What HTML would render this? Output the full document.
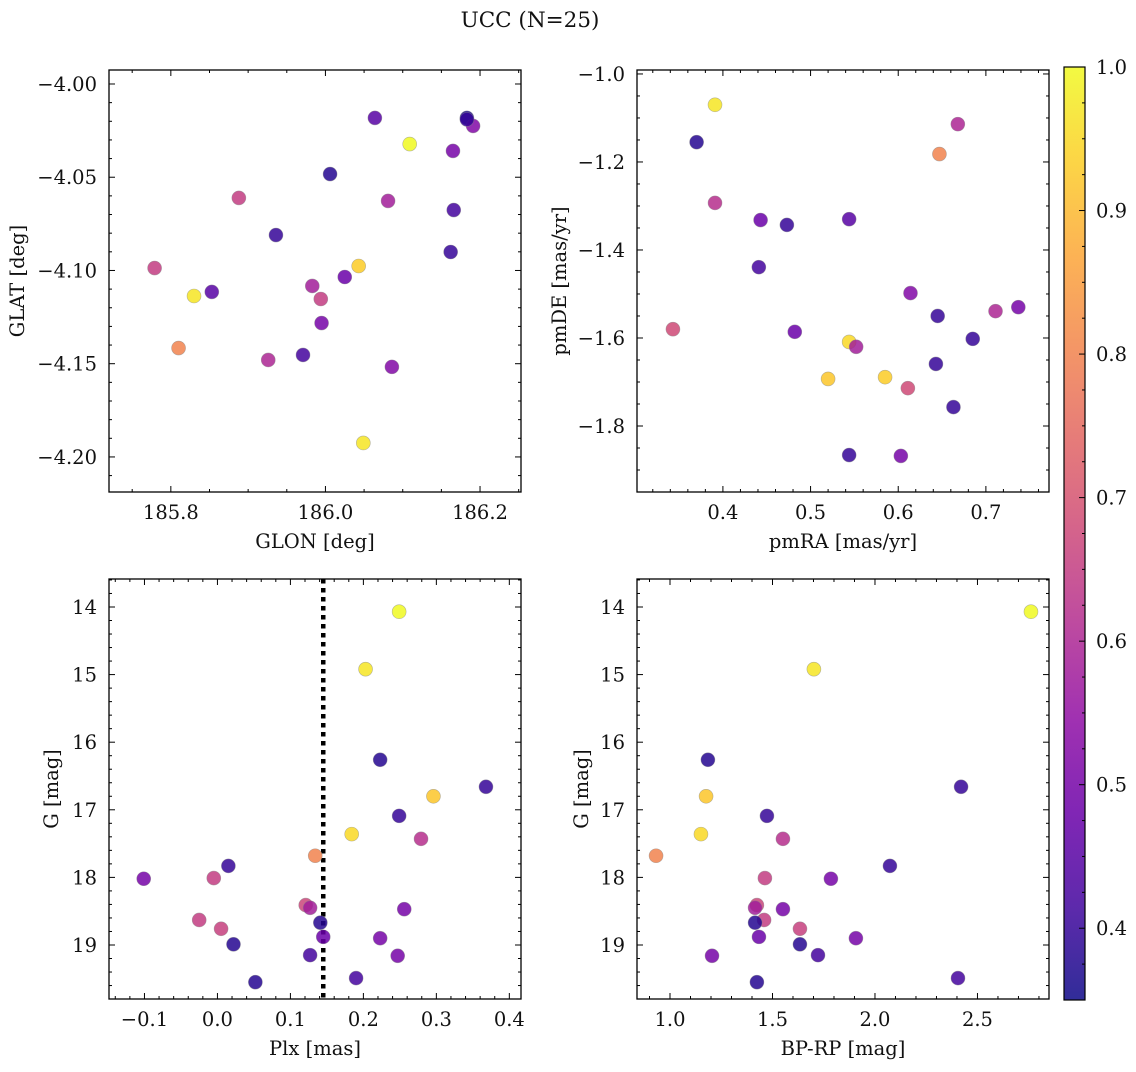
<!DOCTYPE html>
<html><head><meta charset="utf-8"><style>
body{margin:0;background:#fff;}
svg text{font-family:"DejaVu Serif","Liberation Serif",serif;fill:#111;}
</style></head><body>
<svg id="fig" width="1136" height="1067" xmlns="http://www.w3.org/2000/svg">
<defs><linearGradient id="cbg" x1="0" y1="1" x2="0" y2="0"></linearGradient></defs>
<text x="530" y="27" font-size="21.5" text-anchor="middle">UCC (N=25)</text>
</svg>
<script>
const bottomG=[14.07,14.92,16.26,16.66,16.80,17.09,17.36,17.43,17.68,17.83,18.02,18.01,18.63,18.41,18.45,18.47,18.76,18.67,18.88,18.90,18.99,19.15,19.16,19.49,19.55];
const bottomProb=[1.0,0.97,0.38,0.40,0.92,0.40,0.95,0.62,0.80,0.40,0.50,0.65,0.65,0.67,0.58,0.50,0.66,0.38,0.48,0.50,0.38,0.42,0.50,0.42,0.38];
const plxValues=[0.249,0.203,0.223,0.368,0.296,0.249,0.184,0.279,0.134,0.015,-0.101,-0.005,-0.025,0.121,0.127,0.256,0.005,0.141,0.145,0.223,0.022,0.127,0.247,0.190,0.052];
const bprpValues=[2.761,1.702,1.185,2.420,1.176,1.473,1.151,1.551,0.932,2.073,1.785,1.463,1.459,1.424,1.415,1.551,1.634,1.415,1.434,1.907,1.634,1.722,1.205,2.405,1.424];
const glonValues=[185.779,185.830,185.810,185.853,185.888,185.936,185.926,185.971,185.983,185.994,185.995,186.006,186.025,186.043,186.049,186.064,186.081,186.086,186.109,186.162,186.166,186.165,186.183,186.191,186.183];
const glatValues=[-4.0987,-4.1137,-4.1416,-4.1115,-4.0611,-4.0810,-4.148,-4.1453,-4.1083,-4.1153,-4.1282,-4.0483,-4.1035,-4.0976,-4.1925,-4.0182,-4.0627,-4.1517,-4.0322,-4.0901,-4.0676,-4.0359,-4.0182,-4.0225,-4.0190];
const glProb=[0.65,0.97,0.80,0.45,0.65,0.40,0.60,0.42,0.58,0.65,0.50,0.38,0.48,0.93,0.97,0.45,0.58,0.52,1.0,0.40,0.42,0.50,0.36,0.52,0.40];
const pmraValues=[0.391,0.370,0.668,0.647,0.391,0.443,0.473,0.544,0.441,0.614,0.343,0.482,0.544,0.552,0.645,0.685,0.711,0.737,0.520,0.585,0.611,0.643,0.663,0.544,0.603];
const pmdeValues=[-1.070,-1.155,-1.114,-1.182,-1.293,-1.332,-1.343,-1.330,-1.439,-1.498,-1.580,-1.586,-1.609,-1.620,-1.550,-1.602,-1.539,-1.530,-1.693,-1.689,-1.714,-1.659,-1.757,-1.866,-1.868];
const pmProb=[0.97,0.38,0.60,0.80,0.62,0.48,0.40,0.45,0.42,0.52,0.68,0.48,0.95,0.58,0.40,0.40,0.60,0.50,0.92,0.93,0.68,0.40,0.40,0.40,0.50];
const plxCut=[0.145];
const cbTicks=[0.4,0.5,0.6,0.7,0.8,0.9,1.0];

const NS='http://www.w3.org/2000/svg';
const svg=document.getElementById('fig');
const FS=19.5;
const plasma=[[13,8,135],[65,4,157],[106,0,168],[143,13,164],[177,42,144],[204,71,120],[225,100,98],[242,132,75],[252,166,54],[252,206,37],[240,249,33]];
const VMIN=0.35,VMAX=1.0;
function cmap(v){let t=(v-VMIN)/(VMAX-VMIN);t=Math.max(0,Math.min(1,t));const f=t*10;const i=Math.min(9,Math.floor(f));const r=f-i;const a=plasma[i],b=plasma[i+1];return 'rgb('+a.map((c,k)=>Math.round(c+(b[k]-c)*r)).join(',')+')';}
function el(tag,attrs,parent){const e=document.createElementNS(NS,tag);for(const k in attrs)e.setAttribute(k,attrs[k]);(parent||svg).appendChild(e);return e;}
function fmt(v,d){const s=Math.abs(v).toFixed(d);return (v<-1e-9?'\u2212':'')+s;}

function panel(o){
  const g=el('g',{});
  
  
  const sx=v=>o.x0+(v-o.xmin)/(o.xmax-o.xmin)*(o.x1-o.x0);
  const sy=o.invert? (v=>o.y0+(v-o.ymin)/(o.ymax-o.ymin)*(o.y1-o.y0)) : (v=>o.y1-(v-o.ymin)/(o.ymax-o.ymin)*(o.y1-o.y0));
  const frame=el('rect',{x:o.x0,y:o.y0,width:o.x1-o.x0,height:o.y1-o.y0,fill:'none',stroke:'#000','stroke-width':1.3},g);
  
  
  const eps=1e-9;
  for(let v=Math.ceil(o.xmin/o.xminor-eps)*o.xminor;v<=o.xmax+eps;v+=o.xminor){
    const isMaj=Math.abs(v/o.xmajor-Math.round(v/o.xmajor))<1e-6;const L=isMaj?6:3;const x=sx(v);
    el('line',{x1:x,x2:x,y1:o.y1,y2:o.y1-L,stroke:'#000','stroke-width':1},g);
    el('line',{x1:x,x2:x,y1:o.y0,y2:o.y0+L,stroke:'#000','stroke-width':1},g);
    if(isMaj){const t=el('text',{x:x,y:o.y1+27,'font-size':FS,'text-anchor':'middle'},g);t.textContent=fmt(v,o.xdec);
      
      }
  }
  for(let v=Math.ceil(o.ymin/o.yminor-eps)*o.yminor;v<=o.ymax+eps;v+=o.yminor){
    const isMaj=Math.abs(v/o.ymajor-Math.round(v/o.ymajor))<1e-6;const L=isMaj?6:3;const y=sy(v);
    el('line',{x1:o.x0,x2:o.x0+L,y1:y,y2:y,stroke:'#000','stroke-width':1},g);
    el('line',{x1:o.x1,x2:o.x1-L,y1:y,y2:y,stroke:'#000','stroke-width':1},g);
    if(isMaj){const t=el('text',{x:o.x0-12,y:y+7,'font-size':FS,'text-anchor':'end'},g);t.textContent=fmt(v,o.ydec);
      
      }
  }
  const xl=el('text',{x:(o.x0+o.x1)/2,y:o.y1+56,'font-size':FS,'text-anchor':'middle'},g);xl.textContent=o.xlabel;
  
  
  const yx=o.ylabx,yy=(o.y0+o.y1)/2;
  const yl=el('text',{x:yx,y:yy,'font-size':FS,'text-anchor':'middle',transform:'rotate(-90 '+yx+' '+yy+')'},g);yl.textContent=o.ylabel;
  
  
  if(o.vline!==undefined){
    const l=el('line',{x1:sx(o.vline),x2:sx(o.vline),y1:o.y0,y2:o.y1,stroke:'#000','stroke-width':4.5,'stroke-dasharray':'4.5 4.5'},g);
    
    
  }
  for(let i=0;i<o.xs.length;i++){
    const c=el('circle',{cx:sx(o.xs[i]),cy:sy(o.ys[i]),r:7,fill:cmap(o.cs[i]),'fill-opacity':0.85,stroke:'#888','stroke-opacity':0.6,'stroke-width':0.6},g);
    
    
  }
}

panel({name:'glon-glat-panel',x0:109,x1:521,y0:70,y1:492,xmin:185.720,xmax:186.253,ymin:-4.2188,ymax:-3.9925,xmajor:0.2,xminor:0.05,ymajor:0.05,yminor:0.01,xdec:1,ydec:2,xlabel:'GLON [deg]',ylabel:'GLAT [deg]',ylabx:24,xs:glonValues,ys:glatValues,cs:glProb});
panel({name:'pm-panel',x0:637,x1:1049,y0:70,y1:492,xmin:0.302,xmax:0.772,ymin:-1.950,ymax:-0.991,xmajor:0.1,xminor:0.02,ymajor:0.2,yminor:0.05,xdec:1,ydec:1,xlabel:'pmRA [mas/yr]',ylabel:'pmDE [mas/yr]',ylabx:566,xs:pmraValues,ys:pmdeValues,cs:pmProb});
panel({name:'plx-g-panel',x0:109,x1:521,y0:579,y1:999,xmin:-0.1486,xmax:0.416,ymin:13.586,ymax:19.799,invert:true,xmajor:0.1,xminor:0.02,ymajor:1,yminor:0.2,xdec:1,ydec:0,xlabel:'Plx [mas]',ylabel:'G [mag]',ylabx:58,xs:plxValues,ys:bottomG,cs:bottomProb,vline:plxCut[0]});
panel({name:'cmd-panel',x0:637,x1:1049,y0:579,y1:999,xmin:0.839,xmax:2.849,ymin:13.586,ymax:19.799,invert:true,xmajor:0.5,xminor:0.1,ymajor:1,yminor:0.2,xdec:1,ydec:0,xlabel:'BP-RP [mag]',ylabel:'G [mag]',ylabx:588,xs:bprpValues,ys:bottomG,cs:bottomProb});

const grad=document.getElementById('cbg');
for(let k=0;k<=20;k++){const v=VMIN+(VMAX-VMIN)*k/20;el('stop',{offset:(k/20),'stop-color':cmap(v)},grad);}
const cbTop=67,cbBot=1000,cbX=1064,cbW=21;
const cy=v=>cbBot-(v-VMIN)/(VMAX-VMIN)*(cbBot-cbTop);
const cbg=el('g',{});


el('rect',{x:cbX,y:cbTop,width:cbW,height:cbBot-cbTop,fill:'url(#cbg)','fill-opacity':0.85},cbg);
el('rect',{x:cbX,y:cbTop,width:cbW,height:cbBot-cbTop,fill:'none',stroke:'#000','stroke-width':1.2},cbg);
for(let v=0.375;v<=1.0001;v+=0.025){const major=cbTicks.some(t=>Math.abs(t-v)<1e-6);const y=cy(v);
  el('line',{x1:cbX+cbW,x2:cbX+cbW-(major?6:3),y1:y,y2:y,stroke:'#000','stroke-width':1},cbg);}
for(const t of cbTicks){const tx=el('text',{x:cbX+cbW+11,y:cy(t)+7,'font-size':FS},cbg);tx.textContent=t.toFixed(1);
  
  }
</script>
</body></html>
